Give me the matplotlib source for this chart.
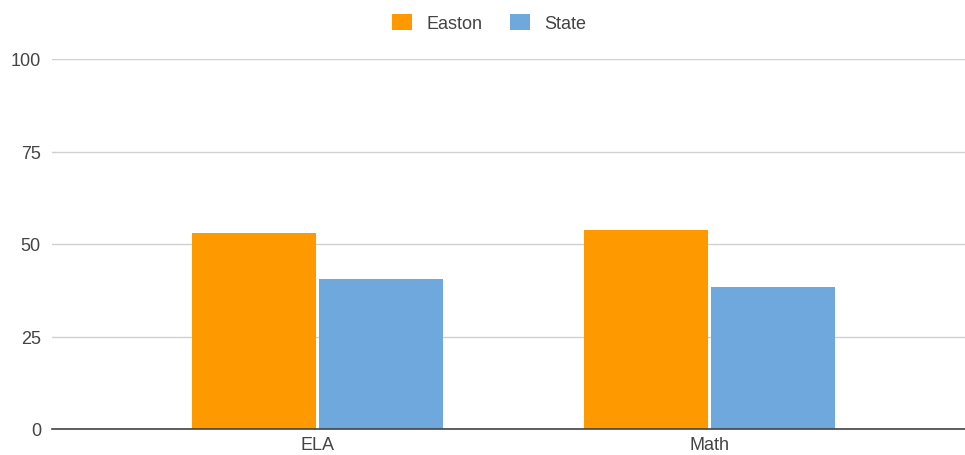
import numpy as np
import matplotlib.pyplot as plt

subjects = ["ELA", "Math"]
easton = [53, 53.7]
state = [40.5, 38.5]
series_names = ["Easton", "State"]
colors = ["#ff9900", "#6fa8dc"]

plt.rcParams["font.family"] = ["Liberation Sans", "DejaVu Sans"]


def main():
    fig = plt.figure(figsize=(9.65, 4.56), dpi=100)
    ax = fig.add_axes([52 / 965, 26 / 456, 913 / 965, 370 / 456])

    x = np.arange(len(subjects))
    w = 0.316
    gap = 0.004
    ax.bar(x - w / 2 - gap, easton, w, color=colors[0], label=series_names[0], zorder=3)
    ax.bar(x + w / 2 + gap, state, w, color=colors[1], label=series_names[1], zorder=3)

    ax.set_ylim(0, 100)
    ax.set_xlim(-0.676, 1.65)
    ax.set_yticks([0, 25, 50, 75, 100])
    ax.set_xticks(x)
    ax.set_xticklabels(subjects)
    ax.grid(axis="y", color="#d0d0d0", linewidth=1, zorder=0)
    for s in ["top", "right", "left"]:
        ax.spines[s].set_visible(False)
    ax.spines["bottom"].set_color("#444444")
    ax.spines["bottom"].set_linewidth(1.2)
    ax.spines["bottom"].set_zorder(4)
    ax.tick_params(axis="both", length=0, labelsize=13, colors="#444444")
    ax.tick_params(axis="y", pad=8)
    ax.tick_params(axis="x", pad=5)

    fig.legend(loc="center", bbox_to_anchor=(0.507, 1 - 24 / 456), ncol=2, frameon=False,
               fontsize=13, handlelength=1.1, handleheight=1.0, columnspacing=1.5,
               handletextpad=0.8, labelcolor="#444444", borderpad=0)

    fig.savefig("out.png", dpi=100)


if __name__ == "__main__":
    main()
